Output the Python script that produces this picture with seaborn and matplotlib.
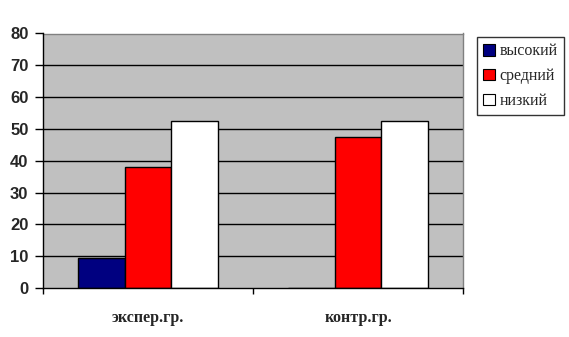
import matplotlib
matplotlib.use("Agg")
import matplotlib.pyplot as plt
import seaborn as sns
import pandas as pd
from matplotlib.patches import Patch

groups = ["экспер.гр.", "контр.гр."]
levels = ["высокий", "средний", "низкий"]
vysokiy = [9.5, 0]
sredniy = [38.1, 47.6]
nizkiy = [52.4, 52.4]
colors = ["#000080", "#FF0000", "#FFFFFF"]

rows = []
for i, g in enumerate(groups):
    for lvl, vals in zip(levels, [vysokiy, sredniy, nizkiy]):
        rows.append({"group": g, "level": lvl, "value": vals[i]})
df = pd.DataFrame(rows)

sns.set_theme(style="white")
plt.rcParams["font.family"] = ["Liberation Sans", "DejaVu Sans"]

fig = plt.figure(figsize=(5.69, 3.37), dpi=100)
ax = fig.add_axes([43/569, 1-288/337, 420/569, (288-33.5)/337])
ax.set_facecolor("#C0C0C0")

sns.barplot(data=df, x="group", y="value", hue="level", hue_order=levels,
            palette=colors, width=0.67, edgecolor="black", linewidth=1.0,
            saturation=1, ax=ax, legend=False, zorder=3)

ax.set_ylim(0, 80)
ax.set_xlim(-0.5, 1.5)
ax.set_yticks(range(0, 81, 10))
for y in range(10, 81, 10):
    ax.axhline(y, color="black", linewidth=1.0, zorder=1)

ax.set_xlabel("")
ax.set_ylabel("")
ax.tick_params(axis="y", which="major", length=5.5, width=1, color="black",
               left=True, labelsize=12, pad=5)
for lbl in ax.get_yticklabels():
    lbl.set_fontweight("bold")
ax.set_xticks([0, 1])
ax.set_xticklabels(groups, fontfamily="Liberation Serif", fontweight="bold",
                   fontsize=11.5)
ax.tick_params(axis="x", which="major", length=0, pad=16)
ax.set_xticks([-0.5, 0.5, 1.5], minor=True)
ax.tick_params(axis="x", which="minor", length=4, width=1, color="black",
               bottom=True)

for s in ["top", "right"]:
    ax.spines[s].set_color("#808080")
    ax.spines[s].set_linewidth(1)
for s in ["left", "bottom"]:
    ax.spines[s].set_color("black")
    ax.spines[s].set_linewidth(1)
    ax.spines[s].set_zorder(5)

handles = [Patch(facecolor=c, edgecolor="black", linewidth=0.8, label=l)
           for c, l in zip(colors, levels)]
leg = fig.legend(handles=handles, loc="upper left",
                 bbox_to_anchor=(476.5/569, 1-37/337),
                 prop={"family": "Liberation Serif", "size": 11.5},
                 frameon=True, fancybox=False, handlelength=0.75,
                 handleheight=0.75, handletextpad=0.3, labelspacing=0.55,
                 borderpad=0.4, borderaxespad=0)
leg.get_frame().set_edgecolor("black")
leg.get_frame().set_linewidth(1)

fig.savefig("out.png", dpi=100, facecolor="white")
